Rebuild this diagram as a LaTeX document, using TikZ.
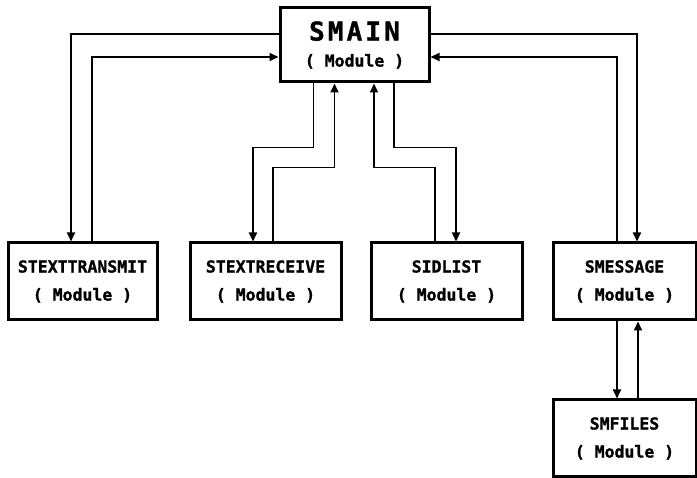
\documentclass[tikz,border=0pt]{standalone}
\usepackage{fontspec}
\newfontfamily\chartfont[FakeBold=1.2]{DejaVu Sans Mono}
\usetikzlibrary{arrows.meta}

\begin{document}
\begin{tikzpicture}[x=1pt, y=-1pt,
  module/.style={rectangle, draw, line width=3pt, minimum width=#1, minimum height=77pt, inner sep=0pt, align=center, font=\chartfont\bfseries\fontsize{16.5}{28}\selectfont},
  link/.style={line width=1.8pt, -{Triangle[length=9pt,width=8pt]}}
]
  \useasboundingbox (0,0) rectangle (697,478);
  % Main module
  \node[module=149pt, minimum height=74pt, font=\chartfont\bfseries\fontsize{16.5}{26}\selectfont] (smain) at (354.5,45)
    {{\fontsize{26}{26}\selectfont\addfontfeature{LetterSpace=12}SMAIN}\\( Module )};
  % Sub modules
  \node[module=149pt] (transmit) at (82.5,281.5) {STEXTTRANSMIT\\( Module )};
  \node[module=151pt] (receive) at (265.5,281.5) {STEXTRECEIVE\\( Module )};
  \node[module=151pt] (idlist) at (446.5,281.5) {SIDLIST\\( Module )};
  \node[module=143pt] (message) at (624.5,281.5) {SMESSAGE\\( Module )};
  \node[module=143pt] (mfiles) at (624.5,438.5) {SMFILES\\( Module )};
  % SMAIN <-> STEXTTRANSMIT
  \draw[link] ([yshift=11pt]smain.west) -| ([xshift=-11.5pt]transmit.north);
  \draw[link] ([xshift=9.5pt]transmit.north) |- ([yshift=-12pt]smain.west);
  % SMAIN <-> STEXTRECEIVE
  \draw[link] ([xshift=-41pt]smain.south) -- ++(0,64) -| ([xshift=-12.5pt]receive.north);
  \draw[link] ([xshift=7.5pt]receive.north) -- ++(0,-74) -| ([xshift=-20pt]smain.south);
  % SMAIN <-> SIDLIST
  \draw[link] ([xshift=39.5pt]smain.south) -- ++(0,64) -| ([xshift=9.5pt]idlist.north);
  \draw[link] ([xshift=-11.5pt]idlist.north) -- ++(0,-74) -| ([xshift=19.5pt]smain.south);
  % SMAIN <-> SMESSAGE
  \draw[link] ([yshift=11pt]smain.east) -| ([xshift=12.5pt]message.north);
  \draw[link] ([xshift=-7.5pt]message.north) |- ([yshift=-12pt]smain.east);
  % SMESSAGE <-> SMFILES
  \draw[link] ([xshift=-7.5pt]message.south) -- ([xshift=-7.5pt]mfiles.north);
  \draw[link] ([xshift=13.5pt]mfiles.north) -- ([xshift=13.5pt]message.south);
\end{tikzpicture}
\end{document}
